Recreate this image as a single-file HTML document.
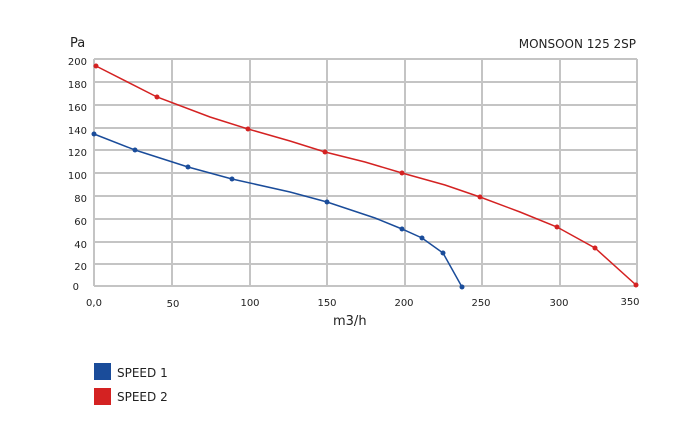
<!DOCTYPE html>
<html><head><meta charset="utf-8"><style>
body{margin:0;background:#fff;}
svg text{font-family:"DejaVu Sans","Liberation Sans",sans-serif;fill:#222;}
</style></head><body>
<svg width="700" height="428" xmlns="http://www.w3.org/2000/svg">
<g stroke="#c4c4c4" stroke-width="2" fill="none">
<line x1="94" y1="59" x2="637" y2="59"/>
<line x1="94" y1="82" x2="637" y2="82"/>
<line x1="94" y1="105" x2="637" y2="105"/>
<line x1="94" y1="128" x2="637" y2="128"/>
<line x1="94" y1="150" x2="637" y2="150"/>
<line x1="94" y1="173" x2="637" y2="173"/>
<line x1="94" y1="196" x2="637" y2="196"/>
<line x1="94" y1="219" x2="637" y2="219"/>
<line x1="94" y1="242" x2="637" y2="242"/>
<line x1="94" y1="264" x2="637" y2="264"/>
<line x1="94" y1="286" x2="637" y2="286"/>
<line x1="94" y1="59" x2="94" y2="286"/>
<line x1="172" y1="59" x2="172" y2="286"/>
<line x1="250" y1="59" x2="250" y2="286"/>
<line x1="327" y1="59" x2="327" y2="286"/>
<line x1="405" y1="59" x2="405" y2="286"/>
<line x1="482" y1="59" x2="482" y2="286"/>
<line x1="560" y1="59" x2="560" y2="286"/>
<line x1="637" y1="59" x2="637" y2="286"/>
</g>
<g font-size="10" text-anchor="end">
<text x="87" y="65">200</text><text x="87" y="88">180</text><text x="87" y="111">160</text>
<text x="87" y="134">140</text><text x="87" y="156">120</text><text x="87" y="179">100</text>
<text x="87" y="202">80</text><text x="87" y="225">60</text><text x="87" y="248">40</text>
<text x="87" y="270">20</text><text x="79" y="290">0</text>
</g>
<g font-size="10" text-anchor="middle">
<text x="94" y="306">0,0</text><text x="173" y="307">50</text><text x="250" y="306">100</text>
<text x="327" y="306">150</text><text x="404" y="306">200</text><text x="481" y="306">250</text>
<text x="559" y="306">300</text><text x="630" y="305">350</text>
</g>
<text x="70" y="47" font-size="13">Pa</text>
<text x="636" y="48" font-size="12" text-anchor="end">MONSOON 125 2SP</text>
<text x="333" y="325" font-size="13">m3/h</text>
<polyline fill="none" stroke="#1a4c9a" stroke-width="1.5" points="94,134 135,150 188,167 232,179 290,192 327,202 375,218 402,229 422,238 443,253 462,287"/>
<polyline fill="none" stroke="#d42222" stroke-width="1.5" points="96,66 157,97 210,117 248,129 290,141 325,152 365,162 402,173 445,185 480,197 520,212 557,227 595,248 636,285"/>
<g fill="#1a4c9a">
<circle cx="94" cy="134" r="2.5"/><circle cx="135" cy="150" r="2.5"/><circle cx="188" cy="167" r="2.5"/>
<circle cx="232" cy="179" r="2.5"/><circle cx="327" cy="202" r="2.5"/><circle cx="402" cy="229" r="2.5"/>
<circle cx="422" cy="238" r="2.5"/><circle cx="443" cy="253" r="2.5"/><circle cx="462" cy="287" r="2.5"/>
</g>
<g fill="#d42222">
<circle cx="96" cy="66" r="2.5"/><circle cx="157" cy="97" r="2.5"/><circle cx="248" cy="129" r="2.5"/>
<circle cx="325" cy="152" r="2.5"/><circle cx="402" cy="173" r="2.5"/><circle cx="480" cy="197" r="2.5"/>
<circle cx="557" cy="227" r="2.5"/><circle cx="595" cy="248" r="2.5"/><circle cx="636" cy="285" r="2.5"/>
</g>
<rect x="94" y="363" width="17" height="17" fill="#1a4c9a"/>
<rect x="94" y="388" width="17" height="17" fill="#d42222"/>
<text x="117" y="377" font-size="12">SPEED 1</text>
<text x="117" y="401" font-size="12">SPEED 2</text>
</svg>
</body></html>
